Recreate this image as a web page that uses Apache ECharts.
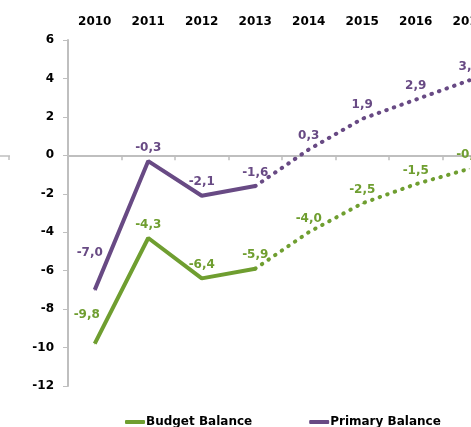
<!DOCTYPE html>
<html><head><meta charset="utf-8">
<script src="https://cdn.jsdelivr.net/npm/echarts@6/dist/echarts.min.js"></script>
<style>html,body{margin:0;padding:0;background:#fff}#c{width:471px;height:427px}</style>
</head><body><div id="c"></div>
<script>
var categories = ['2010','2011','2012','2013','2014','2015','2016','2017'];
var budgetBalance = [-9.8, -4.3, -6.4, -5.9, -4.0, -2.5, -1.5, -0.7];
var primaryBalance = [-7.0, -0.3, -2.1, -1.6, 0.3, 1.9, 2.9, 3.9];
var yTicks = {min: -12, max: 6, interval: 2};
var lastActual = 3; // index of 2013, end of the solid part

var GREEN = '#6f9e30', PURPLE = '#684a84', AXIS = '#bfbfbf';
var FONT = 'DejaVu Sans';
function fmt(v){ return v.toFixed(1).replace('.', ','); }

function split(values, solid, firstOffset){
  return values.map(function(v, i){
    var inPart = solid ? i <= lastActual : i >= lastActual;
    if (!inPart) return null;
    var item = {value: v};
    if (!solid && i === lastActual) item.label = {show: false};
    if (solid && i === 0) item.label = {position: 'inside', offset: firstOffset};
    return item;
  });
}
function mk(name, values, color, solid, firstOffset){
  return {
    name: name, type: 'line', symbol: 'circle', symbolSize: 1, showSymbol: true,
    connectNulls: false,
    data: split(values, solid, firstOffset),
    lineStyle: solid ? {color: color, width: 4, cap: 'butt'} :
      {color: color, width: 4, type: [0.5, 7.5], cap: 'round'},
    itemStyle: {color: color},
    label: {show: true, position: 'top', distance: 7, color: color,
      fontFamily: FONT, fontWeight: 'bold', fontSize: 12,
      formatter: function(p){ return fmt(p.value); }},
    emphasis: {disabled: true},
    animation: false
  };
}

var chart = echarts.init(document.getElementById('c'), null, {renderer: 'canvas'});
chart.setOption({
  animation: false,
  grid: {left: 68, top: 40, width: 428, height: 346, containLabel: false, outerBoundsMode: 'none'},
  legend: {
    data: ['Budget Balance', 'Primary Balance'], left: 120, top: 411,
    itemWidth: 20, itemHeight: 4, itemGap: 57, icon: 'roundRect',
    textStyle: {fontFamily: FONT, fontWeight: 'bold', fontSize: 12, color: '#000', padding: [0, 0, 0, -4]}
  },
  xAxis: [
    {type: 'category', data: categories, position: 'top', boundaryGap: true,
     axisLine: {show: false, onZero: false}, axisTick: {show: false},
     axisLabel: {margin: 12, color: '#000', fontFamily: FONT, fontWeight: 'bold', fontSize: 12}},
    {type: 'category', data: categories, position: 'bottom', boundaryGap: true,
     axisLine: {show: true, onZero: true, lineStyle: {color: AXIS, width: 2}},
     axisTick: {show: true, length: 5, lineStyle: {color: AXIS, width: 1.5}},
     axisLabel: {show: false}}
  ],
  yAxis: {type: 'value', min: yTicks.min, max: yTicks.max, interval: yTicks.interval,
    splitLine: {show: false},
    axisLine: {show: true, lineStyle: {color: AXIS, width: 2}},
    axisTick: {show: true, length: 5, lineStyle: {color: AXIS, width: 1}},
    axisLabel: {margin: 14, color: '#000', fontFamily: FONT, fontWeight: 'bold', fontSize: 12}},
  graphic: [
    {type: 'line', shape: {x1: 0, y1: 156, x2: 10, y2: 156}, style: {stroke: AXIS, lineWidth: 1.5}},
    {type: 'line', shape: {x1: 9, y1: 156, x2: 9, y2: 160}, style: {stroke: AXIS, lineWidth: 1.5}}
  ],
  series: [
    mk('Budget Balance', budgetBalance, GREEN, true, [-8, -29]),
    mk('Primary Balance', primaryBalance, PURPLE, true, [-5, -37]),
    mk('Budget Balance', budgetBalance, GREEN, false),
    mk('Primary Balance', primaryBalance, PURPLE, false)
  ]
});
</script></body></html>
